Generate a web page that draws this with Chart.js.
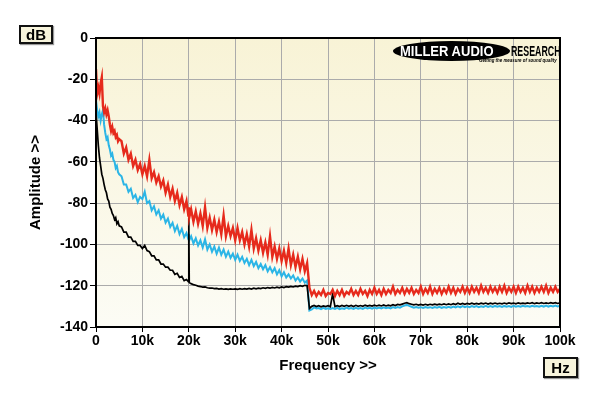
<!DOCTYPE html>
<html>
<head>
<meta charset="utf-8">
<script src="https://cdn.jsdelivr.net/npm/chart.js@4.4.1/dist/chart.umd.min.js"></script>
<style>
  html, body { margin: 0; padding: 0; background: #ffffff; }
  #wrap { position: relative; width: 600px; height: 396px; overflow: hidden; }
  canvas { position: absolute; left: 0; top: 0; }
  .box { position: absolute; box-sizing: border-box; border: 2px solid #111; background: #f7f4dc;
         font: bold 15px "Liberation Sans", Arial, sans-serif; color: #000; text-align: center;
         box-shadow: 1px 1px 1px #999; }
  #logo { position: absolute; left: 393px; top: 41px; width: 170px; height: 30px; }
  #ell { position: absolute; left: 0; top: 0; width: 117px; height: 20px; background: #000; border-radius: 50%; }
  #ell span { position: absolute; left: 7px; top: 2px; font: bold 14px "Liberation Sans", Arial, sans-serif; color: #fff;
              white-space: nowrap; transform: scaleX(0.93); transform-origin: left top; }
  #res { position: absolute; left: 118px; top: 2px; font: bold 14px "Liberation Sans", Arial, sans-serif; color: #000;
         white-space: nowrap; transform: scaleX(0.63); transform-origin: left top; }
  #tag { position: absolute; left: 86px; top: 16px; font: italic bold 5.5px "Liberation Sans", Arial, sans-serif; color: #000;
         white-space: nowrap; transform: scaleX(0.8); transform-origin: left top; }
</style>
</head>
<body>
<div id="wrap">
  <canvas id="c" width="600" height="396"></canvas>
  <div class="box" style="left:19px;top:25px;width:34px;height:19px;line-height:15px;">dB</div>
  <div class="box" style="left:543px;top:357px;width:35px;height:21px;line-height:17px;">Hz</div>
  <div id="logo">
    <div id="ell"><span>MILLER AUDIO</span></div>
    <div id="res">RESEARCH</div>
    <div id="tag">Getting the measure of sound quality</div>
  </div>
</div>
<script>
// Frequency grid (kHz)
const freq = [
  0,0.25,0.5,0.75,1,1.25,1.5,1.75,2,2.25,2.5,2.75,3,3.25,3.5,3.75,4,4.25,4.5,4.75,5,
  5.5,6,6.5,7,7.5,8,8.5,9,9.5,10,10.5,11,11.5,12,12.5,13,13.5,14,14.5,15,15.5,16,16.5,17,17.5,18,18.5,19,19.5,
  19.9,20,20.1,
  20.5,21,21.5,22,22.5,23,23.5,24,24.5,25,25.5,26,26.5,27,27.5,28,28.5,29,29.5,30,
  30.5,31,31.5,32,32.5,33,33.5,34,34.5,35,35.5,36,36.5,37,37.5,38,38.5,39,39.5,40,
  40.5,41,41.5,42,42.5,43,43.5,44,44.5,45,45.5,
  46,46.5,47,47.5,48,48.5,49,49.5,50,50.5,
  51,51.5,52,52.5,53,53.5,54,54.5,55,55.5,
  56,56.5,57,57.5,58,58.5,59,59.5,60,60.5,
  61,61.5,62,62.5,63,63.5,64,64.5,65,65.5,
  66,66.5,67,67.5,68,68.5,69,69.5,70,70.5,
  71,71.5,72,72.5,73,73.5,74,74.5,75,75.5,
  76,76.5,77,77.5,78,78.5,79,79.5,80,80.5,
  81,81.5,82,82.5,83,83.5,84,84.5,85,85.5,
  86,86.5,87,87.5,88,88.5,89,89.5,90,90.5,
  91,91.5,92,92.5,93,93.5,94,94.5,95,95.5,
  96,96.5,97,97.5,98,98.5,99,99.5,100
];

// Red trace (dB)
const redTrace = [
  -15,-27,-24,-27,-22,-19,-33,-36,-34,-37,-35,-38,-42,-45,-43,-46,-45,-48,-47,-50,-49,
  -50,-56,-53,-59,-56,-62,-59,-64,-61,-66,-62,-67,-59,-68,-65,-70,-67,-72,-69,-75,-71,-77,-73,-79,-75,-81,-77,-83,-79,
  -86,-82,-87,
  -83,-89,-84,-90,-85,-91,-82,-92,-87,-93,-88,-94,-89,-95,-86,-96,-91,-96,-92,-98,
  -92,-98,-94,-100,-95,-101,-93,-102,-97,-103,-98,-104,-99,-105,-96,-106,-101,-107,-102,-108,
  -103,-109,-102,-110,-105,-111,-106,-112,-107,-113,-109,
  -121,-124.5,-122.5,-125,-123,-124.5,-122,-125,-123.5,-124,
  -122,-125,-122.5,-124.5,-122,-125,-123,-124,-121.5,-124.5,
  -122.5,-124.5,-121.5,-124,-122.5,-125,-122,-124,-121,-124,
  -122,-124.5,-121.5,-124,-122,-123.5,-120.5,-124,-122,-123.5,
  -121,-124,-121.5,-123.5,-121,-124,-122,-123.5,-120.5,-124,
  -121.5,-123.5,-120.5,-124,-121.5,-123.5,-121,-124,-121.5,-123.5,
  -120.5,-123.5,-121,-124,-121.5,-123,-120.5,-123.5,-121,-123.5,
  -120.5,-123,-121,-123.5,-120,-123,-121,-123.5,-120.5,-123,
  -121,-123.5,-120.5,-123,-120,-123.5,-121,-123,-120.5,-123.5,
  -120.5,-123,-121,-123.5,-120,-123,-120.5,-123.5,-121,-123,
  -120.5,-123,-120,-123.5,-121,-123,-120.5,-123,-121.5
];

// Cyan trace (dB)
const cyanTrace = [
  -30,-35,-38,-36,-40,-37,-35,-42,-46,-49,-48,-52,-54,-57,-56,-59,-60,-63,-62,-65,-66,
  -67,-71,-71,-74.5,-73,-77.5,-76,-79.5,-77,-78,-74.5,-80,-79,-83.5,-81.5,-85.5,-83.5,-87.5,-85.5,-89.5,-87.5,-91.5,-89.5,-93.5,-91,-95,-92.5,-96.5,-94.5,
  -97.5,-95,-98,
  -96,-99.5,-97,-100.5,-98,-101.5,-97.5,-102.5,-100,-103.5,-101,-104.5,-101.5,-105,-102.5,-106,-103.5,-106.5,-104.5,-107.5,
  -105,-108,-106,-109,-107,-110,-107.5,-110.5,-108.5,-111.5,-109.5,-112,-110,-113,-111,-113.5,-111.5,-114.5,-112.5,-115.5,
  -113.5,-116,-114.5,-116.5,-115,-117.5,-116,-118,-116.5,-118.5,-117.5,
  -132,-131.5,-130.5,-131,-130.8,-131.3,-130.7,-131.2,-130.9,-131.3,
  -130.8,-131.2,-130.7,-131.3,-130.9,-131.2,-130.6,-131.1,-130.8,-131.2,
  -130.7,-131.1,-130.8,-131.2,-130.6,-131,-130.7,-131.1,-130.6,-131,
  -130.6,-131,-130.5,-130.9,-130.6,-131,-130.4,-130.8,-130.3,-130.6,
  -130,-129.6,-129.3,-129.8,-130.2,-130.6,-130.3,-130.7,-130.4,-130.8,
  -130.3,-130.7,-130.4,-130.8,-130.3,-130.6,-130.2,-130.7,-130.3,-130.6,
  -130.2,-130.6,-130.1,-130.5,-130,-130.5,-129.9,-130.4,-130,-130.4,
  -129.9,-130.3,-129.9,-130.4,-130,-130.3,-129.8,-130.3,-129.9,-130.3,
  -129.8,-130.2,-129.9,-130.3,-129.8,-130.2,-129.9,-130.3,-129.7,-130.2,
  -129.8,-130.2,-129.7,-130.1,-129.8,-130.2,-129.7,-130.1,-129.8,-130.2,
  -129.7,-130.1,-129.6,-130.1,-129.7,-130,-129.6,-130,-129.7
];

// Black trace (dB)
const blackTrace = [
  -36,-44,-52,-58,-62,-66,-68,-71,-73.5,-75,-78,-79,-82,-83,-85,-86,-88,-87,-90,-89,-91,
  -91.5,-94,-94,-96.5,-96.5,-98.5,-98.5,-100.5,-100.5,-102,-100.5,-103,-103.5,-105.5,-105.5,-107.5,-107.5,-109.5,-109.5,-111,-111,-112.5,-112.5,-114.5,-114,-116,-115.5,-117.5,-117,
  -118,-87,-118.5,
  -119,-119.5,-119.8,-120.2,-120.4,-120.7,-120.6,-121,-121.2,-121.1,-121.4,-121.3,-121.6,-121.4,-121.7,-121.5,-121.8,-121.5,-121.7,-121.5,
  -121.8,-121.4,-121.7,-121.4,-121.6,-121.3,-121.6,-121.2,-121.5,-121.2,-121.4,-121,-121.3,-120.9,-121.2,-120.8,-121.1,-120.7,-121,-120.6,
  -120.9,-120.5,-120.7,-120.3,-120.6,-120.2,-120.4,-120,-120.3,-119.8,-120,
  -131,-130,-129.6,-130.1,-129.7,-130.2,-129.8,-130.1,-129.7,-130.2,
  -124,-130.1,-129.7,-130.1,-129.6,-130,-129.5,-130,-129.6,-130.1,
  -129.5,-130,-129.6,-130,-129.4,-129.9,-129.5,-129.9,-129.4,-129.8,
  -129.4,-129.8,-129.3,-129.8,-129.4,-129.7,-129.2,-129.6,-129.1,-129.3,
  -128.9,-128.5,-128.2,-128.7,-129,-129.3,-129,-129.4,-129.1,-129.4,
  -129,-129.4,-129,-129.3,-128.9,-129.3,-128.9,-129.2,-128.8,-129.2,
  -128.8,-129.2,-128.7,-129.1,-128.5,-129,-128.6,-129,-128.6,-128.9,
  -128.5,-128.9,-128.6,-128.9,-128.5,-128.8,-128.4,-128.9,-128.5,-128.8,
  -128.4,-128.8,-128.5,-128.8,-128.4,-128.8,-128.3,-128.7,-128.4,-128.8,
  -128.3,-128.7,-128.4,-128.7,-128.3,-128.6,-128.2,-128.7,-128.3,-128.6,
  -128.2,-128.6,-128.3,-128.6,-128.2,-128.5,-128.2,-128.6,-128.3
];

const yTicks = [0, -20, -40, -60, -80, -100, -120, -140];
const xTickLabels = ['0','10k','20k','30k','40k','50k','60k','70k','80k','90k','100k'];

const pts = arr => freq.map((f, i) => ({ x: f, y: arr[i] }));

const bgPlugin = {
  id: 'bgPlugin',
  beforeDraw(chart) {
    const { ctx, chartArea: a } = chart;
    const g = ctx.createLinearGradient(0, a.top, 0, a.bottom);
    g.addColorStop(0, '#f8f3d6');
    g.addColorStop(1, '#fcfcf5');
    ctx.save();
    ctx.fillStyle = g;
    ctx.fillRect(a.left, a.top, a.right - a.left, a.bottom - a.top);
    ctx.restore();
  },
  afterDraw(chart) {
    const { ctx, chartArea: a } = chart;
    ctx.save();
    ctx.strokeStyle = '#000';
    ctx.lineWidth = 2;
    ctx.strokeRect(a.left, a.top, a.right - a.left, a.bottom - a.top);
    ctx.restore();
  }
};

const tickFont = { family: '"Liberation Sans", Arial, sans-serif', size: 14, weight: 'bold' };
const titleFont = { family: '"Liberation Sans", Arial, sans-serif', size: 15, weight: 'bold' };

new Chart(document.getElementById('c'), {
  type: 'line',
  data: {
    datasets: [
      { label: 'Red', data: pts(redTrace), borderColor: '#e62a1c', borderWidth: 2.4, pointRadius: 0, tension: 0 },
      { label: 'Black', data: pts(blackTrace), borderColor: '#000000', borderWidth: 1.7, pointRadius: 0, tension: 0 },
      { label: 'Cyan', data: pts(cyanTrace), borderColor: '#2bb5e6', borderWidth: 2, pointRadius: 0, tension: 0 }
    ]
  },
  options: {
    responsive: false,
    animation: false,
    devicePixelRatio: 1,
    layout: { padding: { left: 0, top: 38, right: 40, bottom: 0 } },
    plugins: { legend: { display: false }, tooltip: { enabled: false } },
    scales: {
      x: {
        type: 'linear', min: 0, max: 100,
        afterFit: s => { s.height = 69; },
        ticks: {
          stepSize: 10, autoSkip: false, maxRotation: 0, color: '#000', font: tickFont, padding: 1,
          callback: v => xTickLabels[Math.round(v / 10)]
        },
        grid: { color: '#ababab', lineWidth: 1, tickColor: '#000', tickLength: 5, drawTicks: true },
        border: { display: true, color: '#000', width: 2 },
        title: { display: true, text: 'Frequency >>', color: '#000', font: titleFont, padding: { top: 0, bottom: 21 } }
      },
      y: {
        type: 'linear', min: -140, max: 0,
        afterFit: s => { s.width = 96; },
        afterBuildTicks: s => { s.ticks = yTicks.map(v => ({ value: v })); },
        ticks: { color: '#000', font: tickFont, padding: 2, callback: v => String(v) },
        grid: { color: '#ababab', lineWidth: 1, tickColor: '#000', tickLength: 6, drawTicks: true },
        border: { display: true, color: '#000', width: 2 },
        title: { display: true, text: 'Amplitude >>', color: '#000', font: titleFont, padding: { top: 27, bottom: 0 } }
      }
    }
  },
  plugins: [bgPlugin]
});
</script>
</body>
</html>
